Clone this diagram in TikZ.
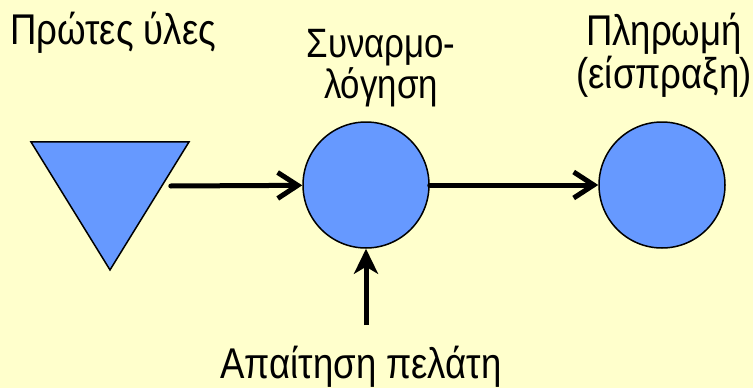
\documentclass[tikz,border=0pt]{standalone}
\usepackage{fontspec}
\setmainfont[FakeStretch=0.85]{Liberation Sans}
\usetikzlibrary{arrows.meta,shapes.geometric}
\definecolor{paper}{HTML}{FFFFCC}
\definecolor{nodeblue}{HTML}{6699FF}
\begin{document}
\begin{tikzpicture}[x=1pt,y=-1pt,
    stage/.style={circle,draw,line width=1.5pt,fill=nodeblue,minimum size=126pt,inner sep=0pt},
    flow/.style={line width=5pt,line cap=round,-{Straight Barb[length=20pt,width=26pt]}},
    push/.style={line width=5pt,-{Stealth[length=25pt,width=24pt,inset=7pt]}},
    lbl/.style={font=\fontsize{43}{43}\selectfont,anchor=base,inner sep=0pt}]
    \useasboundingbox(0,0) rectangle (753,388);
    \fill[paper](0,0) rectangle (753,388);
    % stock of raw material and the two stages
    \node[isosceles triangle,shape border rotate=-90,isosceles triangle stretches,
        minimum width=158pt,minimum height=128pt,inner sep=0pt,
        draw,line width=1.5pt,fill=nodeblue] (stock) at (110,186) {};
    \node[stage] (asm) at (366,185) {};
    \node[stage] (pay) at (662,185) {};
    \coordinate (need) at (366,325);
    % labels
    \node[lbl] at (113,45) {Πρώτες ύλες};
    \node[lbl,align=center,font=\fontsize{41}{36}\selectfont] at (381,98) {Συναρμο-\\λόγηση};
    \node[lbl,align=center] at (664,88) {Πληρωμή\\(είσπραξη)};
    \node[lbl] at (361,378) {Απαίτηση πελάτη};
    % flows
    \draw[flow]([xshift=8pt]stock.east)--(asm);
    \draw[flow](asm)--(pay);
    \draw[push](need)--(asm.south);
\end{tikzpicture}
\end{document}
